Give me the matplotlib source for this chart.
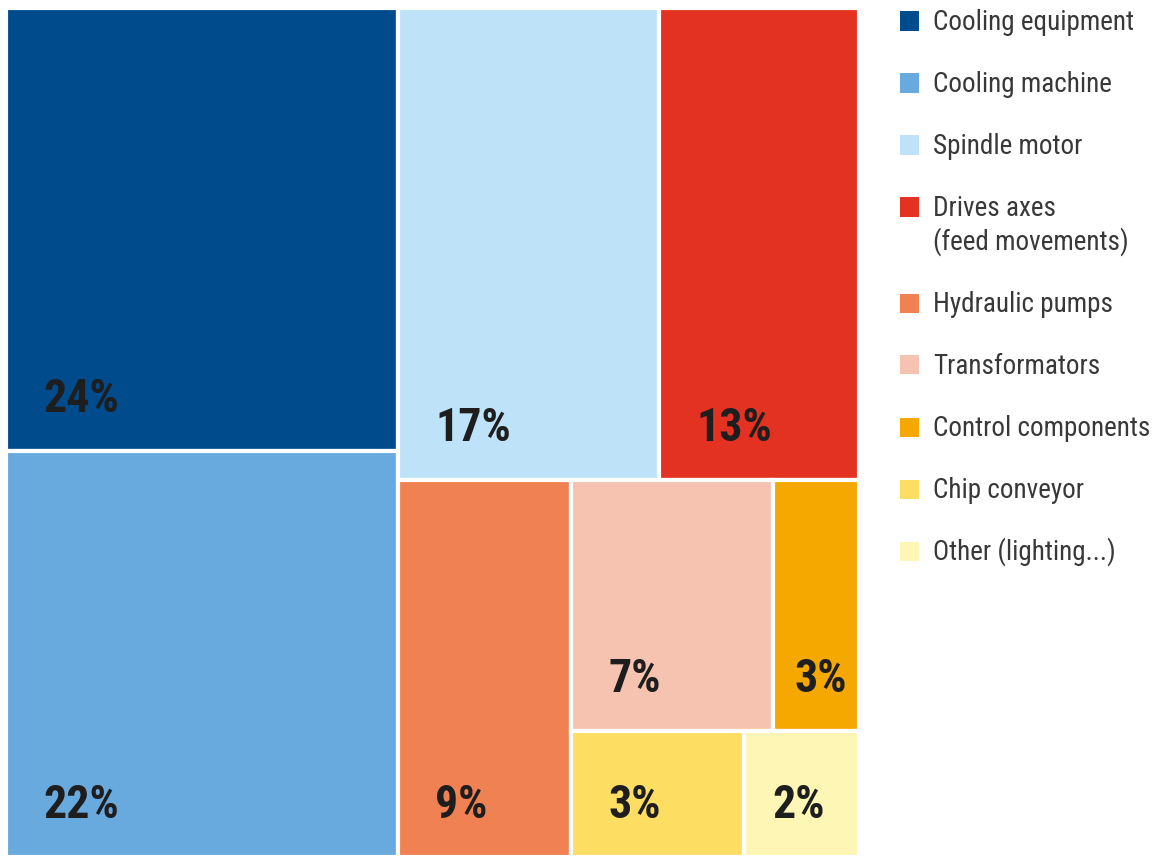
import matplotlib.pyplot as plt
from matplotlib.patches import Rectangle

plt.rcParams['font.family'] = ['Roboto Condensed', 'Roboto', 'DejaVu Sans']

labels = ['Cooling equipment', 'Cooling machine', 'Spindle motor',
          'Drives axes\n(feed movements)', 'Hydraulic pumps', 'Transformators',
          'Control components', 'Chip conveyor', 'Other (lighting...)']
shares = [24, 22, 17, 13, 9, 7, 3, 3, 2]
colors = ['#004b8b', '#69aade', '#bee3f8', '#e43222', '#f08152',
          '#f6c3b1', '#f5a800', '#fedd63', '#fef6b4']

# nesting of the blocks: 'h' = side by side, 'v' = stacked top to bottom
tree = ('h', [('v', [0, 1]),
              ('v', [('h', [2, 3]),
                     ('h', [4, ('v', [('h', [5, 6]), ('h', [7, 8])])])])])


def total(node):
    if isinstance(node, int):
        return shares[node]
    return sum(total(c) for c in node[1])


def layout(node, x, y, w, h, out):
    if isinstance(node, int):
        out[node] = (x, y, w, h)
        return
    kind, kids = node
    s = total(node)
    pos = 0
    for c in kids:
        f = total(c) / s
        if kind == 'h':
            layout(c, x + pos * w, y, w * f, h, out)
        else:
            layout(c, x, y + pos * h, w, h * f, out)
        pos += f


boxes = {}
layout(tree, 0, 0, 1, 1, boxes)

W, H = 1155, 857
ax_w = 853
fig = plt.figure(figsize=(W / 100, H / 100), dpi=100)
ax = fig.add_axes([6 / W, 0, ax_w / W, 849 / H])
ax.set_xlim(0, 1)
ax.set_ylim(1, 0)
ax.axis('off')

for i, v in enumerate(shares):
    x, y, w, h = boxes[i]
    ax.add_patch(Rectangle((x, y), w, h, facecolor=colors[i],
                           edgecolor='white', linewidth=3))
    dx = min(37, 0.25 * w * ax_w)   # pull in a bit on the narrow boxes
    ax.annotate(f'{v}%', xy=(x, y + h), xytext=(dx, 39),
                textcoords='offset pixels', ha='left', va='baseline',
                fontsize=33, fontweight='bold', color='#1e1e1e')

# legend drawn by hand so the square sits next to the first line
yc = 21
for i, lab in enumerate(labels):
    fig.patches.append(Rectangle((900 / W, 1 - (yc + 9.5) / H), 19 / W, 19 / H,
                                 facecolor=colors[i], edgecolor='none',
                                 transform=fig.transFigure, figure=fig))
    for j, line in enumerate(lab.split('\n')):
        fig.text(933 / W, 1 - (yc + 9 + 34 * j) / H, line, ha='left',
                 va='baseline', fontsize=19.5, color='#383838')
    yc += 62 + 34 * lab.count('\n')

fig.savefig('out.png', dpi=100)
